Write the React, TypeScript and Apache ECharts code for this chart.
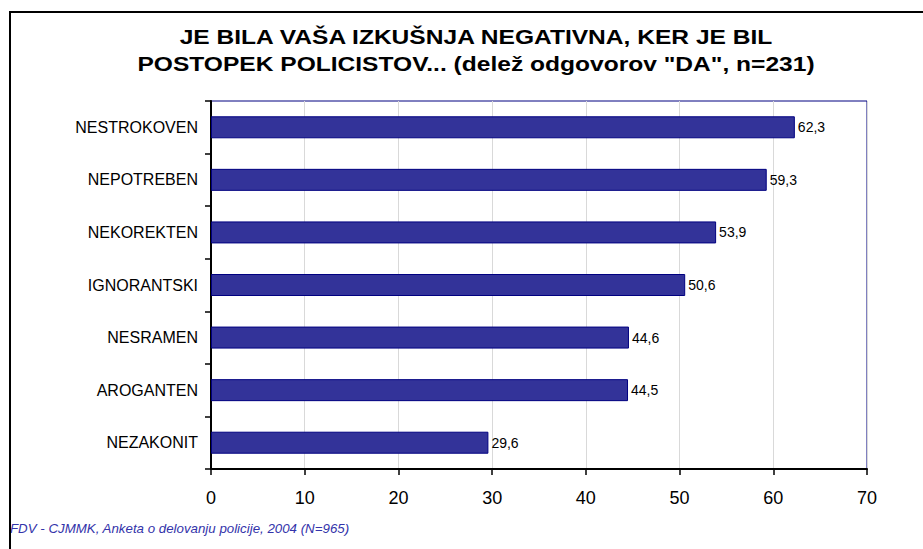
import React, { useEffect, useRef } from "react";
import * as echarts from "echarts";

const categories = ["NESTROKOVEN", "NEPOTREBEN", "NEKOREKTEN", "IGNORANTSKI", "NESRAMEN", "AROGANTEN", "NEZAKONIT"];
const values = [62.3, 59.3, 53.9, 50.6, 44.6, 44.5, 29.6];
const titleLines = ["JE BILA VAŠA IZKUŠNJA NEGATIVNA, KER JE BIL", "POSTOPEK POLICISTOV... (delež odgovorov \"DA\", n=231)"];
const footnote = "FDV - CJMMK, Anketa o delovanju policije, 2004 (N=965)";

export default function App() {
  const ref = useRef<HTMLDivElement>(null);
  useEffect(() => {
    if (!ref.current) return;
    const chart = echarts.init(ref.current, undefined, { renderer: "svg" });
    const font = "Arial, 'Liberation Sans', sans-serif";
    chart.setOption({
      animation: false,
      backgroundColor: "#fff",
      textStyle: { fontFamily: font },
      grid: {
        left: 211, right: 56, top: 101, bottom: 80,
        show: true, borderColor: "#000080", borderWidth: 1, backgroundColor: "transparent",
      },
      xAxis: {
        type: "value", min: 0, max: 70, interval: 10,
        axisLine: { show: true, lineStyle: { color: "#000", width: 2 } },
        axisTick: { show: true, length: 6, lineStyle: { color: "#000", width: 1.5 } },
        axisLabel: { fontSize: 18, color: "#000", margin: 20, fontFamily: font },
        splitLine: { show: true, lineStyle: { color: "#d9d9d9", width: 1 } },
      },
      yAxis: {
        type: "category", data: categories, inverse: true,
        axisLine: { show: true, lineStyle: { color: "#000", width: 2 } },
        axisTick: { show: true, length: 6, alignWithLabel: false, lineStyle: { color: "#000", width: 1.5 } },
        axisLabel: { fontSize: 16, color: "#000", margin: 13, fontFamily: font },
        splitLine: { show: false },
      },
      series: [
        {
          type: "bar", data: values, barWidth: 22,
          itemStyle: { color: "#333399", borderColor: "#000080", borderWidth: 1 },
          label: {
            show: true, position: "right", distance: 3, fontSize: 14, color: "#000", fontFamily: font,
            formatter: (p: any) => String(p.value.toFixed(1)).replace(".", ","),
          },
        },
      ],
      graphic: [
        { type: "rect", z: 100, shape: { x: 10, y: 12, width: 1000, height: 1000 }, style: { fill: "none", stroke: "#000", lineWidth: 2 }, silent: true },
        { type: "text", x: 476, y: 37, scaleX: 1.17, style: { text: titleLines[0], font: `bold 21px ${font}`, fill: "#000", textAlign: "center", textVerticalAlign: "middle" } },
        { type: "text", x: 476, y: 64, scaleX: 1.17, style: { text: titleLines[1], font: `bold 21px ${font}`, fill: "#000", textAlign: "center", textVerticalAlign: "middle" } },
        { type: "text", x: 10, y: 528, style: { text: footnote, font: `italic 13.3px ${font}`, fill: "#3333aa", textAlign: "left", textVerticalAlign: "middle" } },
      ],
    });
    return () => chart.dispose();
  }, []);
  return <div ref={ref} style={{ width: 923, height: 549, position: "absolute", left: 0, top: 0 }} />;
}
